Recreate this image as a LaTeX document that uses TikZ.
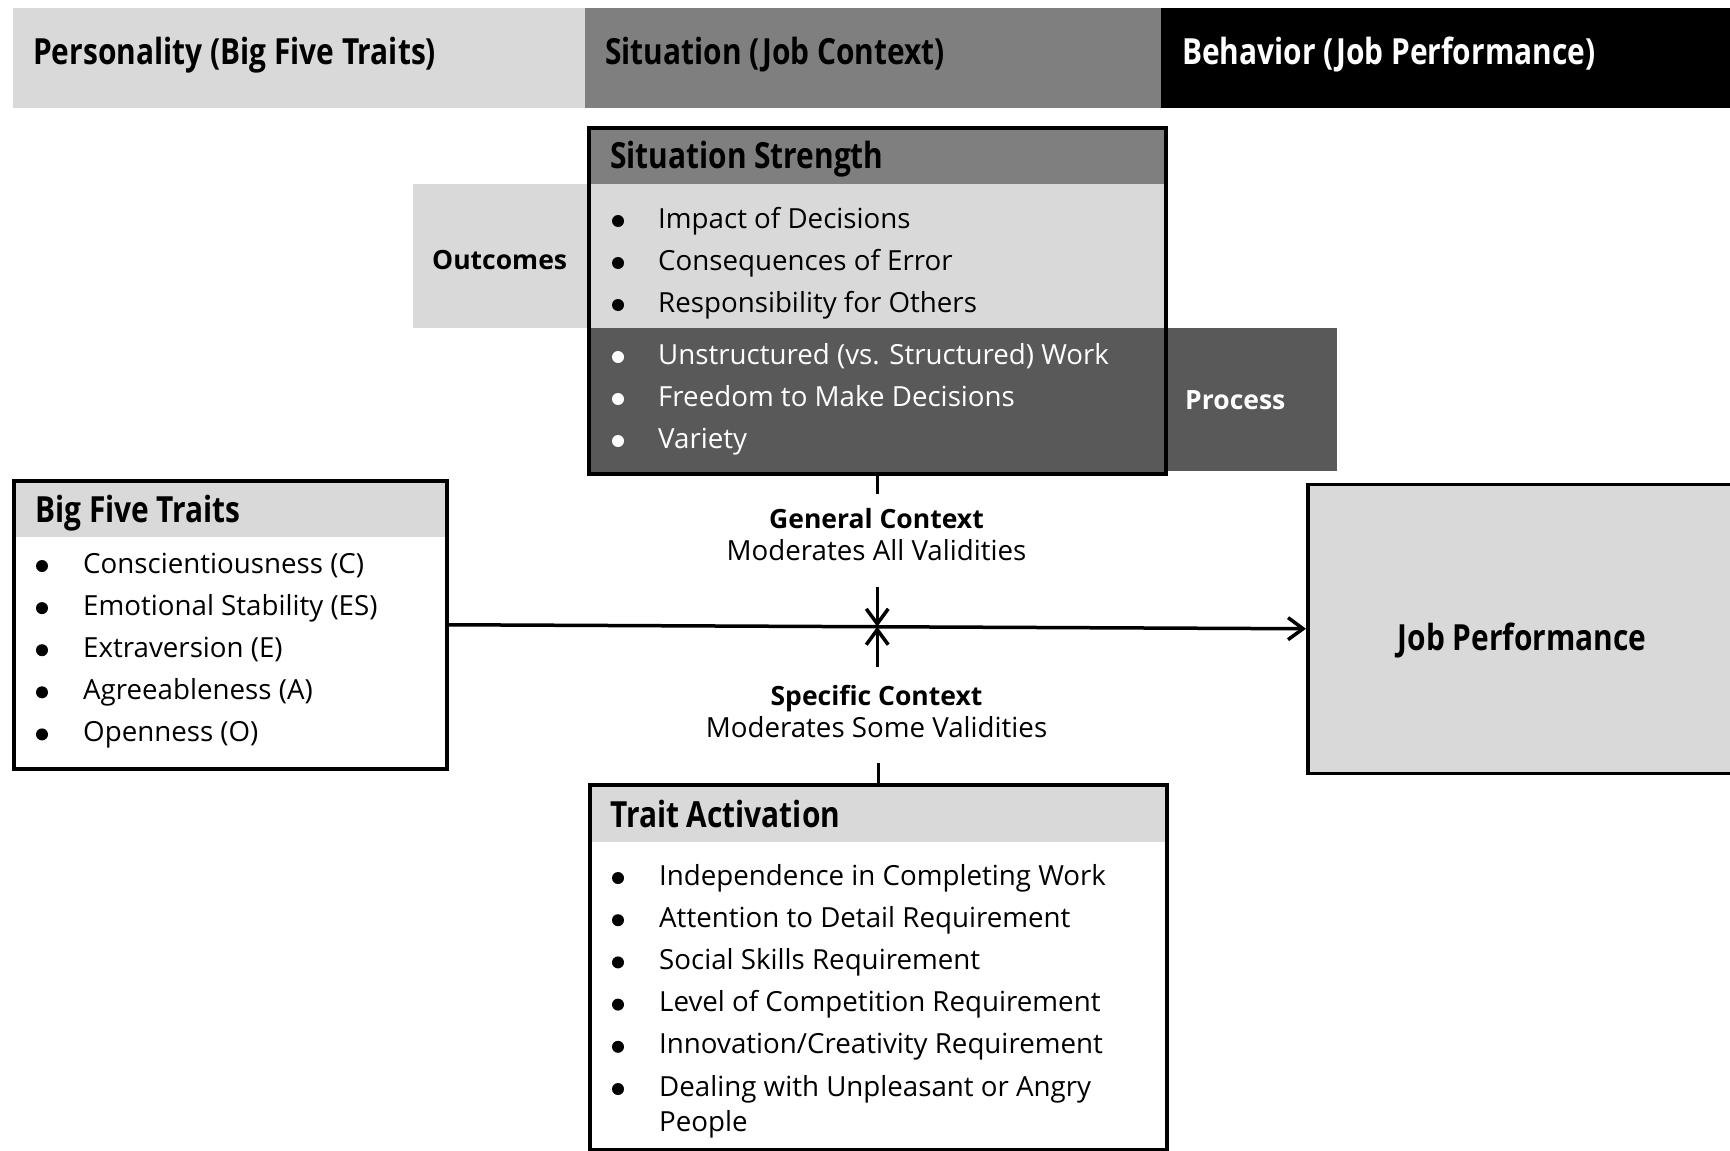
\documentclass[tikz,border=0pt]{standalone}
\usepackage{fontspec}
\setmainfont{Open Sans}
\newfontfamily\headfont[FakeStretch=0.83]{Open Sans}
\usetikzlibrary{arrows.meta,calc}
\definecolor{lightg}{HTML}{D9D9D9}
\definecolor{midg}{HTML}{7F7F7F}
\definecolor{darkg}{HTML}{595959}
\newcommand\hdfont{\headfont\bfseries\fontsize{36}{40}\selectfont}
\newcommand\bodyfont{\fontsize{27.7}{35}\selectfont}
\newcommand\lblfont{\bfseries\fontsize{26.5}{32}\selectfont}
\tikzset{
  boxn/.style={draw=black, line width=3.5pt, anchor=north west, inner sep=0pt},
  hdtext/.style={anchor=base west, font=\hdfont, inner sep=0pt},
  itemtext/.style={anchor=base west, font=\bodyfont, inner sep=0pt},
  ctrtext/.style={anchor=base, font=\bodyfont, inner sep=0pt},
  ctrlbl/.style={anchor=base, font=\lblfont, inner sep=0pt},
  sidebox/.style={anchor=north west, inner ysep=0pt, align=left, font=\lblfont},
  arr/.style={line width=3.5pt, -{Straight Barb[length=15pt,width=22pt,line width=3.5pt]}},
  conn/.style={line width=3.5pt}
}
\begin{document}
\begin{tikzpicture}[x=1pt,y=-1pt]
\useasboundingbox (0,0) rectangle (1730,1151);
\clip (0,0) rectangle (1730,1151);

% top bars
\fill[lightg] (13,8) rectangle (585,108);
\fill[midg] (585,8) rectangle (1161,108);
\fill[black] (1161,8) rectangle (1730,108);
\node[hdtext] (bar1) at (33,64) {Personality (Big Five Traits)};
\node[hdtext] (bar2) at (605,64) {Situation (Job Context)};
\node[hdtext, text=white] (bar3) at (1182,64) {Behavior (Job Performance)};

% Situation strength
\node[sidebox, fill=lightg, minimum width=174pt, minimum height=144pt, text width=136pt, inner xsep=19pt, text height=26pt, text depth=0pt] (out) at (413,184) {Outcomes};
\node[sidebox, fill=darkg, text=white, minimum width=173pt, minimum height=143pt, text width=131pt, inner xsep=21pt] (proc) at (1164,328) {Process};
\fill[midg] (587,126) rectangle (1164,184);
\fill[lightg] (587,184) rectangle (1164,328);
\fill[darkg] (587,328) rectangle (1164,472);
\node[boxn, minimum width=577pt, minimum height=346pt] (ss) at (587,126) {};
\node[hdtext] (sshead) at (610,168) {Situation Strength};
\foreach \t [count=\i] in {Impact of Decisions, Consequences of Error, Responsibility for Others} {
  \pgfmathsetmacro\yy{228+42*(\i-1)}
  \fill (618,\yy-7) circle (6);
  \node[itemtext] (ssa\i) at (658,\yy) {\t};
}
\foreach \t [count=\i] in {Unstructured (vs. Structured) Work, Freedom to Make Decisions, Variety} {
  \pgfmathsetmacro\yy{364+42*(\i-1)}
  \fill[white] (618,\yy-7) circle (6);
  \node[itemtext, text=white] (ssb\i) at (658,\yy) {\t};
}

% Big five
\fill[lightg] (12,479) rectangle (446,537);
\node[boxn, minimum width=433pt, minimum height=288pt] (bf) at (12,479) {};
\node[hdtext] (bfhead) at (35,522) {Big Five Traits};
\foreach \t [count=\i] in {Conscientiousness (C), Emotional Stability (ES), Extraversion (E), Agreeableness (A), Openness (O)} {
  \pgfmathsetmacro\yy{573+42.1*(\i-1)}
  \fill (42,\yy-7) circle (6);
  \node[itemtext] (bfi\i) at (83,\yy) {\t};
}

% Job performance
\node[boxn, fill=lightg, minimum width=440pt, minimum height=289pt] (jp) at (1306,482.5) {};
\node[anchor=base, font=\hdfont, inner sep=0pt] (jptext) at (1522,650) {Job Performance};

% Trait activation
\fill[lightg] (588,783) rectangle (1165,842);
\node[boxn, minimum width=577pt, minimum height=365pt] (ta) at (588,783) {};
\node[hdtext] (tahead) at (610,827) {Trait Activation};
\foreach \t [count=\i] in {Independence in Completing Work, Attention to Detail Requirement, Social Skills Requirement, Level of Competition Requirement, Innovation/Creativity Requirement, Dealing with Unpleasant or Angry} {
  \pgfmathsetmacro\yy{885+42.2*(\i-1)}
  \fill (618,\yy-7) circle (6);
  \node[itemtext] (tai\i) at (659,\yy) {\t};
}
\node[itemtext] (tai7) at (659,1131) {People};

% connectors
\coordinate (cross) at ($(bf.east)!0.5!(jp.west)$);
\draw[arr] (bf.east) -- (jp.west);
\coordinate (gctop) at ($(ss.south)+(0,18)$);
\coordinate (gcbot) at (cross |- 0,587);
\coordinate (sctop) at (cross |- 0,667);
\coordinate (scbot) at ($(ta.north)+(0,-20)$);
\draw[conn] (ss.south) -- (gctop);
\draw[arr] (gcbot) -- (cross);
\draw[arr] (sctop) -- (cross);
\draw[conn] (scbot) -- (ta.north);

\node[ctrlbl] (gc1) at (876.5,528) {General Context};
\node[ctrtext] (gc2) at (876.5,560) {Moderates All Validities};
\node[ctrlbl] (sc1) at (876.5,705) {Specific Context};
\node[ctrtext] (sc2) at (876.5,737) {Moderates Some Validities};
\end{tikzpicture}
\end{document}
